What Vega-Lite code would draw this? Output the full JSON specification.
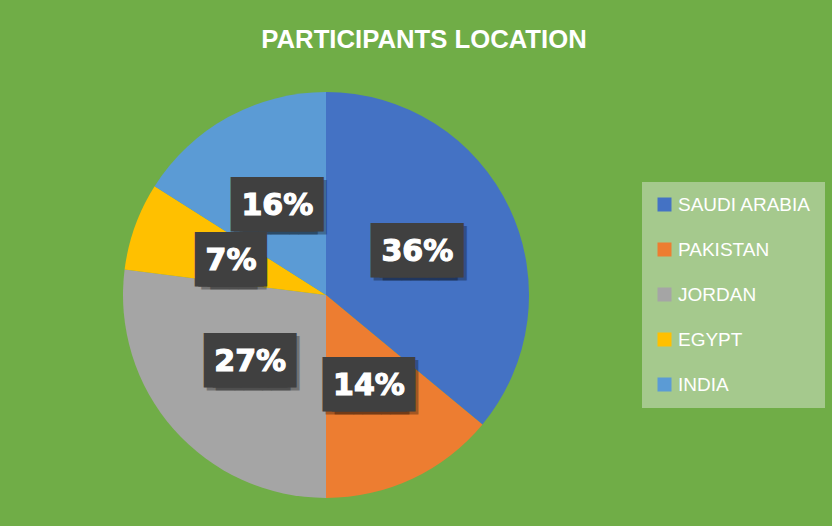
{
  "$schema": "https://vega.github.io/schema/vega-lite/v6.json",
  "width": 652,
  "height": 450,
  "autosize": {"type": "none"},
  "padding": {"left": 0, "right": 180, "top": 70, "bottom": 6},
  "background": "#70AD47",
  "config": {"view": {"stroke": null}},
  "title": {
    "text": "PARTICIPANTS LOCATION",
    "font": "Liberation Sans",
    "fontSize": 25.7,
    "fontWeight": "bold",
    "color": "#FFFFFF",
    "anchor": "middle",
    "dx": 98,
    "dy": 25,
    "offset": 21,
    "baseline": "alphabetic"
  },
  "data": {
    "values": [
      {"country": "SAUDI ARABIA", "pct": 36, "label": "36%", "idx": 1},
      {"country": "PAKISTAN", "pct": 14, "label": "14%", "idx": 2},
      {"country": "JORDAN", "pct": 27, "label": "27%", "idx": 3},
      {"country": "EGYPT", "pct": 7, "label": "7%", "idx": 4},
      {"country": "INDIA", "pct": 16, "label": "16%", "idx": 5}
    ]
  },
  "encoding": {
    "theta": {"field": "pct", "type": "quantitative", "stack": true},
    "order": {"field": "idx", "type": "quantitative"}
  },
  "layer": [
    {
      "mark": {"type": "arc", "outerRadius": 203, "strokeWidth": 0},
      "encoding": {
        "color": {
          "field": "country",
          "type": "nominal",
          "scale": {
            "domain": ["SAUDI ARABIA", "PAKISTAN", "JORDAN", "EGYPT", "INDIA"],
            "range": ["#4472C4", "#ED7D31", "#A5A5A5", "#FFC000", "#5B9BD5"]
          },
          "legend": {
            "title": null,
            "orient": "none",
            "legendX": 642,
            "legendY": 112,
            "fillColor": "#A5C98D",
            "padding": 13,
            "symbolType": "square",
            "symbolSize": 196,
            "symbolStrokeWidth": 0,
            "labelFont": "Liberation Sans",
            "labelFontSize": 19,
            "labelColor": "#FFFFFF",
            "labelOffset": 4,
            "rowPadding": 25
          }
        }
      }
    },
    {
      "mark": {"type": "text", "radius": 101, "font": "DejaVu Sans Mono", "fontSize": 46, "align": "center", "baseline": "middle", "dx": -1.5, "dy": 3, "color": "#000000", "opacity": 0.3},
      "encoding": {"text": {"condition": {"test": "datum.country === 'EGYPT'", "value": "██"}, "value": "███"}}
    },
    {
      "mark": {"type": "text", "radius": 101, "font": "DejaVu Sans Mono", "fontSize": 46, "align": "center", "baseline": "middle", "dx": 7.5, "dy": 3, "color": "#000000", "opacity": 0.3},
      "encoding": {"text": {"condition": {"test": "datum.country === 'EGYPT'", "value": "██"}, "value": "███"}}
    },
    {
      "mark": {"type": "text", "radius": 101, "font": "DejaVu Sans Mono", "fontSize": 46, "align": "center", "baseline": "middle", "dx": -4.5, "color": "#404040"},
      "encoding": {"text": {"condition": {"test": "datum.country === 'EGYPT'", "value": "██"}, "value": "███"}}
    },
    {
      "mark": {"type": "text", "radius": 101, "font": "DejaVu Sans Mono", "fontSize": 46, "align": "center", "baseline": "middle", "dx": 4.5, "color": "#404040"},
      "encoding": {"text": {"condition": {"test": "datum.country === 'EGYPT'", "value": "██"}, "value": "███"}}
    },
    {
      "mark": {"type": "text", "radius": 101, "font": "DejaVu Sans Mono", "fontSize": 46, "align": "center", "baseline": "middle", "dx": -8, "color": "#404040"},
      "encoding": {"text": {"condition": {"test": "datum.country === 'EGYPT'", "value": "██"}, "value": ""}}
    },
    {
      "mark": {"type": "text", "radius": 101, "font": "DejaVu Sans Mono", "fontSize": 46, "align": "center", "baseline": "middle", "dx": 8, "color": "#404040"},
      "encoding": {"text": {"condition": {"test": "datum.country === 'EGYPT'", "value": "██"}, "value": ""}}
    },
    {
      "mark": {"type": "text", "radius": 101, "font": "DejaVu Sans", "fontSize": 30, "fontWeight": "bold", "align": "center", "baseline": "middle", "color": "#FFFFFF", "stroke": "#FFFFFF", "strokeWidth": 1.2},
      "encoding": {"text": {"field": "label", "type": "nominal"}}
    }
  ]
}
